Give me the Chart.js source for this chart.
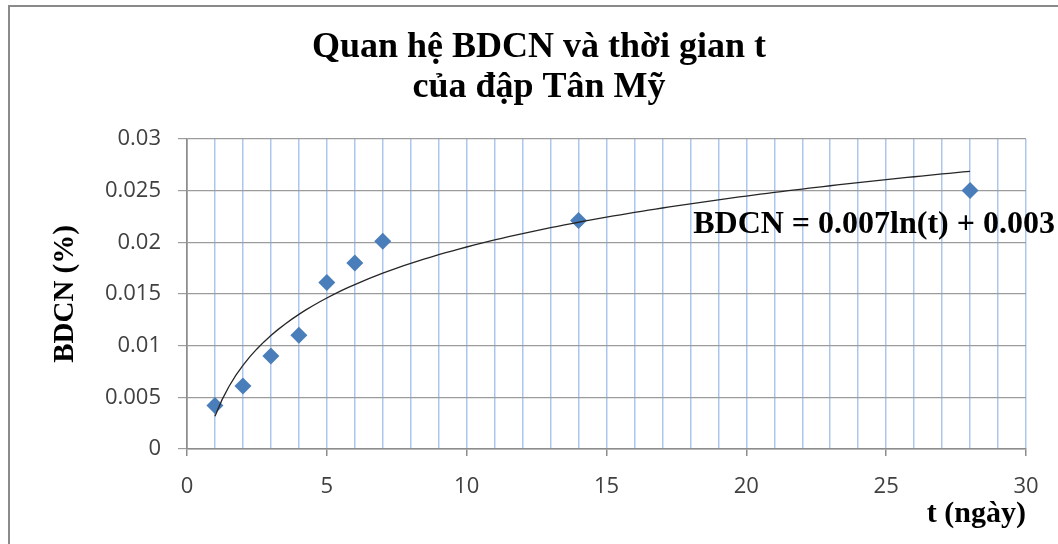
<!DOCTYPE html>
<html lang="vi">
<head>
<meta charset="utf-8">
<title>Quan hệ BDCN và thời gian t của đập Tân Mỹ</title>
<script src="https://cdn.jsdelivr.net/npm/chart.js@4.4.1/dist/chart.umd.min.js"></script>
<style>
  html, body { margin: 0; padding: 0; background: #ffffff; }
  #wrap { position: relative; width: 1058px; height: 544px; overflow: hidden; }
  #frame {
    position: absolute; left: 8px; top: 5px; right: -4px; bottom: -4px;
    border-left: 2px solid #8a8a8a; border-top: 2px solid #8a8a8a;
    pointer-events: none;
  }
  canvas { display: block; }
</style>
</head>
<body>
<div id="wrap">
  <canvas id="chart" width="1058" height="544"></canvas>
  <div id="frame"></div>
</div>
<script>
// Thời gian quan trắc (ngày) và biến dạng co ngót BDCN (%)
const days = [1, 2, 3, 4, 5, 6, 7, 14, 28];
const bdcn = [0.0042, 0.0061, 0.009, 0.011, 0.0161, 0.018, 0.0201, 0.0221, 0.025];

const titleLines = ['Quan hệ BDCN và thời gian t', 'của đập Tân Mỹ'];
const xAxisTitle = 't (ngày)';
const yAxisTitle = 'BDCN (%)';

// Hồi quy logarit BDCN = a·ln(t) + b theo bình phương tối thiểu
function logFit(xs, ys) {
  const lx = xs.map(Math.log);
  const n = xs.length;
  const mx = lx.reduce((s, v) => s + v, 0) / n;
  const my = ys.reduce((s, v) => s + v, 0) / n;
  let sxy = 0, sxx = 0;
  for (let i = 0; i < n; i++) {
    sxy += (lx[i] - mx) * (ys[i] - my);
    sxx += (lx[i] - mx) * (lx[i] - mx);
  }
  const a = sxy / sxx;
  return { a, b: my - a * mx };
}
const fit = logFit(days, bdcn);
const trendPoints = [];
for (let t = days[0]; t <= days[days.length - 1] + 1e-9; t += 0.25) {
  trendPoints.push({ x: t, y: fit.a * Math.log(t) + fit.b });
}
const equationText = 'BDCN = ' + fit.a.toFixed(3) + 'ln(t) + ' + fit.b.toFixed(3);

const serifBold = { family: '"Liberation Serif", "Times New Roman", serif', weight: 'bold' };
const tickFont = { family: '"Open Sans", "Noto Sans", sans-serif', size: 22 };

// Nhãn phương trình đường xu hướng
const equationLabel = {
  id: 'equationLabel',
  afterDatasetsDraw(chart, args, opts) {
    const { ctx, scales } = chart;
    ctx.save();
    ctx.font = 'bold 32px "Liberation Serif", "Times New Roman", serif';
    ctx.fillStyle = '#000000';
    ctx.textAlign = 'left';
    ctx.textBaseline = 'alphabetic';
    ctx.fillText(opts.text, scales.x.getPixelForValue(opts.at[0]), scales.y.getPixelForValue(opts.at[1]));
    ctx.restore();
  }
};

new Chart(document.getElementById('chart'), {
  type: 'scatter',
  data: {
    datasets: [
      {
        label: 'Xu hướng',
        data: trendPoints,
        showLine: true,
        borderColor: '#262626',
        borderWidth: 1.3,
        pointRadius: 0,
        tension: 0,
        order: 0
      },
      {
        label: 'BDCN',
        data: days.map((t, i) => ({ x: t, y: bdcn[i] })),
        pointStyle: 'rectRot',
        pointRadius: 8.5,
        pointHoverRadius: 8.5,
        backgroundColor: '#4a7ebb',
        borderWidth: 0,
        order: 1
      }
    ]
  },
  options: {
    responsive: false,
    animation: false,
    events: [],
    layout: { padding: { left: 52, right: 32, top: 0, bottom: 0 } },
    plugins: {
      legend: { display: false },
      tooltip: { enabled: false },
      title: {
        display: true,
        text: titleLines,
        color: '#000000',
        font: { ...serifBold, size: 36, lineHeight: 1.11 },
        padding: { top: 28, bottom: 31 }
      },
      equationLabel: { text: equationText, at: [18.1, 0.0209] }
    },
    scales: {
      x: {
        type: 'linear',
        min: 0,
        max: 30,
        afterFit(scale) { scale.height = 95; },
        border: { color: '#8c8c8c', width: 1.5 },
        grid: {
          color: (c) => (c.tick && c.tick.value === 0 ? '#8c8c8c' : '#adc6ec'),
          lineWidth: 1.5,
          tickLength: 7,
          tickColor: (c) => (c.tick && c.tick.value % 5 === 0 ? '#8c8c8c' : 'rgba(0,0,0,0)')
        },
        ticks: {
          stepSize: 1,
          autoSkip: false,
          maxRotation: 0,
          padding: 18,
          color: '#404040',
          font: tickFont,
          callback: (v) => (v % 5 === 0 ? String(v) : '')
        },
        title: {
          display: true,
          text: xAxisTitle,
          align: 'end',
          color: '#000000',
          font: { ...serifBold, size: 30 },
          padding: { top: 0, bottom: 12 }
        }
      },
      y: {
        type: 'linear',
        min: 0,
        max: 0.03,
        afterFit(scale) { scale.width = 135; },
        border: { color: '#8c8c8c', width: 1.5 },
        grid: {
          color: '#9c9c9c',
          lineWidth: 1.2,
          tickLength: 9
        },
        ticks: {
          stepSize: 0.005,
          padding: 17,
          color: '#404040',
          font: tickFont,
          callback: (v) => String(parseFloat(v.toFixed(4)))
        },
        title: {
          display: true,
          text: yAxisTitle,
          color: '#000000',
          font: { ...serifBold, size: 29, lineHeight: 0.8 },
          padding: { top: 1.5, bottom: 0 }
        }
      }
    }
  },
  plugins: [equationLabel]
});
</script>
</body>
</html>
